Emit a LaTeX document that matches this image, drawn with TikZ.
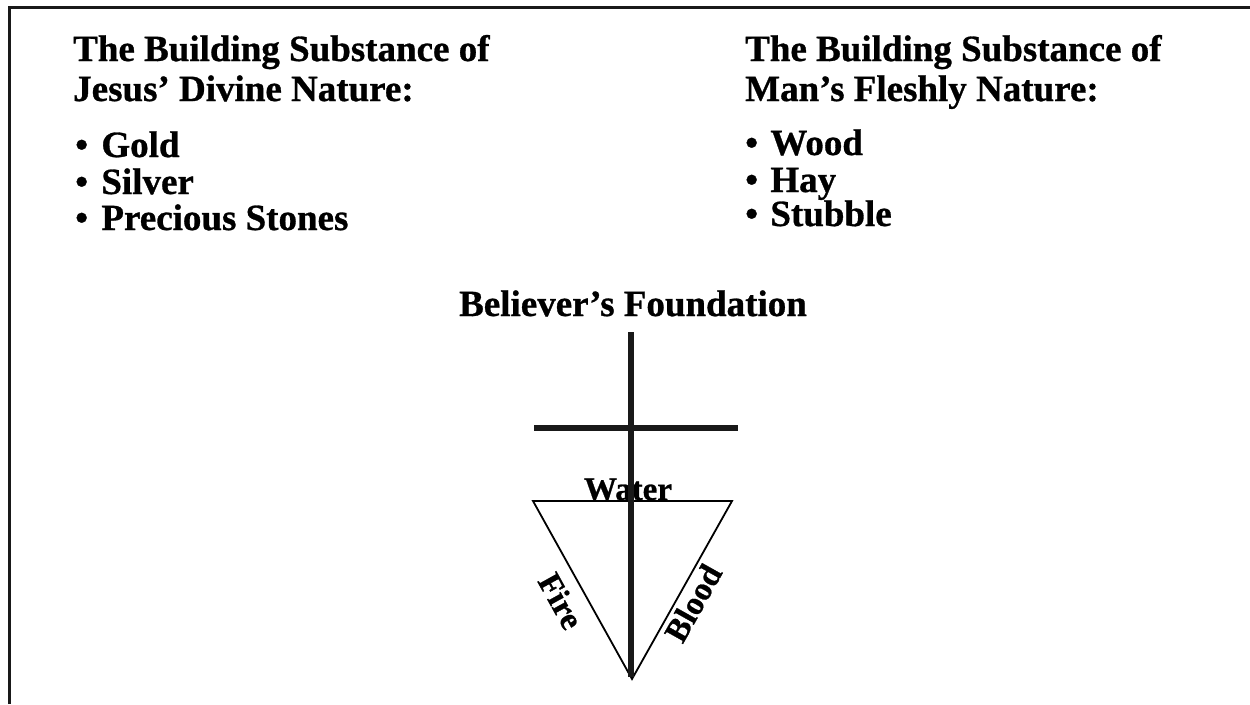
\documentclass[tikz,border=0pt]{standalone}
\usepackage{fontspec}
\setmainfont{Liberation Serif}[BoldFeatures={FakeBold=0.8}]
\begin{document}
\begin{tikzpicture}[x=1pt,y=-1pt,
  big/.style={font=\fontsize{37}{40}\selectfont\bfseries, inner sep=0pt, anchor=base west},
  lbl/.style={font=\fontsize{33}{36}\selectfont\bfseries, inner sep=0pt},
  frame/.style={line width=3pt, black!90},
  tri/.style={line width=1.8pt},
  crossbar/.style={line width=6.5pt, black!90}]
\useasboundingbox (0,0) rectangle (1250,704);
% frame
\coordinate (fbl) at (9,704);
\coordinate (ftl) at (9,7.6);
\coordinate (ftr) at (1250,7.6);
\draw[frame] (fbl) -- (ftl) -- (ftr);
% left column
\node[big] (l1) at (73,61) {The Building Substance of};
\node[big] (l2) at (73,101) {Jesus’ Divine Nature:};
\node[big] (l3) at (75,157) {•\hspace{4pt} Gold};
\node[big] (l4) at (75,194) {•\hspace{4pt} Silver};
\node[big] (l5) at (75,230) {•\hspace{4pt} Precious Stones};
% right column
\node[big] (r1) at (745,61) {The Building Substance of};
\node[big] (r2) at (745,101) {Man’s Fleshly Nature:};
\node[big] (r3) at (745,155) {•\hspace{3pt} Wood};
\node[big] (r4) at (745,192) {•\hspace{3pt} Hay};
\node[big] (r5) at (745,226) {•\hspace{3pt} Stubble};
% title
\node[big, anchor=base] (bf) at (633,316) {Believer’s Foundation};
% triangle
\coordinate (tl) at (533,501);
\coordinate (tr) at (732,501);
\coordinate (apex) at (632,679);
\draw[tri, line join=miter] (tl) -- (tr) -- (apex) -- cycle;
\node[lbl, anchor=base] (water) at (628,500) {Water};
\node[lbl, rotate=-61] (fire) at (561,601) {Fire};
\node[lbl, rotate=60.7] (blood) at (693,603) {Blood};
% cross
\coordinate (ctop) at (631,332);
\coordinate (cbot) at (631,677);
\coordinate (bl) at (534,428);
\coordinate (br) at (738,428);
\draw[crossbar] (ctop) -- (cbot);
\draw[crossbar] (bl) -- (br);
\end{tikzpicture}
\end{document}
